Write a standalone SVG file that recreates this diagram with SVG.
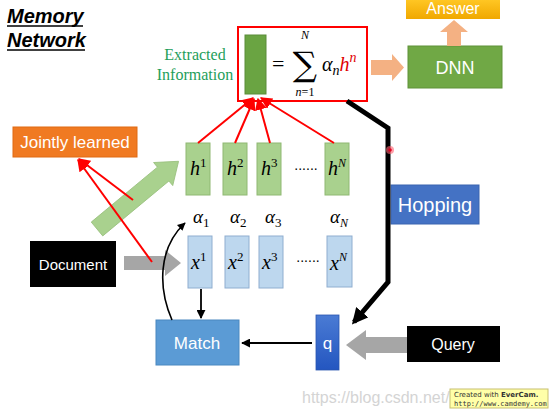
<svg xmlns="http://www.w3.org/2000/svg" width="554" height="414" viewBox="0 0 554 414">
<defs>
<marker id="ab" viewBox="0 0 10 10" refX="9" refY="5" markerWidth="5" markerHeight="5" orient="auto" markerUnits="strokeWidth"><path d="M0,0 L10,5 L0,10 z" fill="#000"/></marker>
<marker id="abk" viewBox="0 0 10 10" refX="8" refY="5" markerWidth="3.2" markerHeight="3.2" orient="auto" markerUnits="strokeWidth"><path d="M0,0 L10,5 L0,10 z" fill="#000"/></marker>
<marker id="ar" viewBox="0 0 10 10" refX="9" refY="5" markerWidth="6" markerHeight="6" orient="auto" markerUnits="strokeWidth"><path d="M0,0 L10,5 L0,10 z" fill="#ff0000"/></marker>
<linearGradient id="gq" x1="0" y1="0" x2="0" y2="1"><stop offset="0" stop-color="#4a7bd4"/><stop offset="1" stop-color="#2456c0"/></linearGradient>
<linearGradient id="ga" x1="0" y1="0" x2="0" y2="1"><stop offset="0" stop-color="#ffc623"/><stop offset="1" stop-color="#f0a800"/></linearGradient>
</defs>
<style>
.lbl{font-family:"Liberation Sans",Arial,sans-serif;fill:#fff;text-anchor:middle}
.m{font-family:"Liberation Serif","DejaVu Serif",serif;font-style:italic;fill:#000}
.hb{fill:#a9d18e;stroke:#8fb873;stroke-width:1}
.xb{fill:#bdd7ee;stroke:#8faed0;stroke-width:1}
.rl{stroke:#ff0000;stroke-width:2;fill:none}
</style>
<rect width="554" height="414" fill="#fff"/>

<g id="title">
<text x="7" y="23" font-family="Liberation Sans,Arial,sans-serif" font-weight="bold" font-style="italic" font-size="20" fill="#000">Memory</text>
<line x1="7" y1="26" x2="83" y2="26" stroke="#000" stroke-width="1.5"/>
<text x="7" y="47" font-family="Liberation Sans,Arial,sans-serif" font-weight="bold" font-style="italic" font-size="20" fill="#000">Network</text>
<line x1="7" y1="50" x2="85" y2="50" stroke="#000" stroke-width="1.5"/>
</g>

<g id="extracted-label">
<text x="195" y="60" font-family="Liberation Serif,serif" font-size="16" fill="#1e9e5a" text-anchor="middle">Extracted</text>
<text x="195" y="80" font-family="Liberation Serif,serif" font-size="16" fill="#1e9e5a" text-anchor="middle">Information</text>
</g>

<g id="formula">
<rect x="238" y="27" width="129" height="74" fill="none" stroke="#ff0000" stroke-width="2"/>
<rect x="245" y="35" width="21" height="59" fill="#6aa442" stroke="#5a8c38" stroke-width="1"/>
<text x="272" y="71" font-family="Liberation Serif,serif" font-size="22" fill="#000">=</text>
<text x="305" y="76" font-family="DejaVu Serif,serif" font-size="34" fill="#000" text-anchor="middle">∑</text>
<text x="305" y="39" class="m" font-size="12" text-anchor="middle">N</text>
<text x="305" y="96" class="m" font-size="12" text-anchor="middle">n<tspan font-style="normal">=1</tspan></text>
<text x="322" y="71" class="m" font-size="20">α<tspan font-size="14" dy="4">n</tspan><tspan fill="#e00000" font-size="20" dy="-4">h</tspan><tspan fill="#e00000" font-size="14" dy="-9">n</tspan></text>
</g>

<g id="dnn">
<rect x="408" y="46" width="94" height="42" fill="#70a845" stroke="#5e9238" stroke-width="1"/>
<text x="455" y="74" class="lbl" font-size="18">DNN</text>
</g>
<g id="answer">
<rect x="406" y="0" width="94" height="19" fill="url(#ga)"/>
<text x="453" y="14" class="lbl" font-size="16">Answer</text>
</g>

<g id="jointly-learned">
<rect x="13" y="127" width="124" height="30" fill="#f07a22" stroke="#e06a12" stroke-width="1"/>
<text x="75" y="148" class="lbl" font-size="17">Jointly learned</text>
</g>

<g id="h-memory">
<rect class="hb" x="186" y="143" width="24" height="52"/>
<rect class="hb" x="223" y="143" width="24" height="52"/>
<rect class="hb" x="257" y="143" width="24" height="52"/>
<rect class="hb" x="325" y="143" width="24" height="52"/>
<text x="190" y="175" class="m" font-size="20">h<tspan font-size="13" dy="-8" font-style="normal">1</tspan></text>
<text x="227" y="175" class="m" font-size="20">h<tspan font-size="13" dy="-8" font-style="normal">2</tspan></text>
<text x="261" y="175" class="m" font-size="20">h<tspan font-size="13" dy="-8" font-style="normal">3</tspan></text>
<text x="328" y="175" class="m" font-size="20">h<tspan font-size="12" dy="-8">N</tspan></text>
<text x="306" y="170" font-family="Liberation Sans,sans-serif" font-size="14" fill="#000" text-anchor="middle">......</text>
</g>

<g id="alphas">
<text x="193" y="223" class="m" font-size="19">α<tspan font-size="13" dy="4" font-style="normal">1</tspan></text>
<text x="230" y="223" class="m" font-size="19">α<tspan font-size="13" dy="4" font-style="normal">2</tspan></text>
<text x="265" y="223" class="m" font-size="19">α<tspan font-size="13" dy="4" font-style="normal">3</tspan></text>
<text x="330" y="223" class="m" font-size="19">α<tspan font-size="12" dy="4">N</tspan></text>
</g>

<g id="x-memory">
<rect class="xb" x="188" y="236" width="24" height="52"/>
<rect class="xb" x="225" y="236" width="24" height="52"/>
<rect class="xb" x="259" y="236" width="24" height="52"/>
<rect class="xb" x="327" y="236" width="25" height="51"/>
<text x="191" y="269" class="m" font-size="20">x<tspan font-size="13" dy="-8" font-style="normal">1</tspan></text>
<text x="228" y="269" class="m" font-size="20">x<tspan font-size="13" dy="-8" font-style="normal">2</tspan></text>
<text x="262" y="269" class="m" font-size="20">x<tspan font-size="13" dy="-8" font-style="normal">3</tspan></text>
<text x="330" y="270" class="m" font-size="20">x<tspan font-size="12" dy="-9">N</tspan></text>
<text x="308" y="262" font-family="Liberation Sans,sans-serif" font-size="14" fill="#000" text-anchor="middle">......</text>
</g>

<g id="document">
<rect x="30" y="241" width="86" height="46" fill="#000"/>
<text x="73" y="270" class="lbl" font-size="15">Document</text>
</g>

<g id="hopping">
<rect x="391" y="185" width="88" height="39" fill="#4472c4" stroke="#3a64b0" stroke-width="1"/>
<text x="435" y="212" class="lbl" font-size="20">Hopping</text>
</g>

<g id="match">
<rect x="156" y="320" width="83" height="45" fill="#5b9bd5" stroke="#4a88c0" stroke-width="1"/>
<text x="197" y="349" class="lbl" font-size="17">Match</text>
</g>

<g id="q">
<rect x="316" y="315" width="23" height="55" fill="url(#gq)" stroke="#2a55b0" stroke-width="0.8"/>
<text x="327.5" y="349" class="lbl" font-size="17">q</text>
</g>

<g id="query">
<rect x="407" y="326" width="93" height="36" fill="#000"/>
<text x="453" y="350" class="lbl" font-size="16">Query</text>
</g>

<g id="connectors">
<polygon points="371,60 392,60 392,54 404,67.5 392,81 392,75 371,75" fill="#f4b183"/>
<polygon points="447,46 447,32 440,32 454,20 468,32 461,32 461,46" fill="#f4b183"/>
<polygon points="0,-9 86,-9 86,-15 106,0 86,15 86,9 0,9" fill="#a9d18e" stroke="#98c07d" stroke-width="0.8" transform="translate(97,229) rotate(-39.7)"/>
<polygon points="124,256 165,256 165,250 181,263 165,276 165,270 124,270" fill="#a6a6a6"/>
<polygon points="407,337 366,337 366,330 346,345 366,360 366,353 407,353" fill="#a6a6a6"/>
<line class="rl" x1="198" y1="143" x2="253" y2="98" marker-end="url(#ar)"/>
<line class="rl" x1="235" y1="143" x2="254" y2="99" marker-end="url(#ar)"/>
<line class="rl" x1="270" y1="143" x2="258" y2="99" marker-end="url(#ar)"/>
<line class="rl" x1="334" y1="143" x2="261" y2="98" marker-end="url(#ar)"/>
<line class="rl" x1="133" y1="200" x2="79" y2="159" marker-end="url(#ar)"/>
<line class="rl" x1="152" y1="262" x2="78" y2="160" marker-end="url(#ar)"/>
<polyline points="347,101 388,128 388,282 354,322" fill="none" stroke="#000" stroke-width="5" stroke-linejoin="miter" marker-end="url(#abk)"/>
<line x1="312" y1="343" x2="242" y2="343" stroke="#000" stroke-width="1.8" marker-end="url(#ab)"/>
<line x1="201" y1="289" x2="201" y2="318" stroke="#000" stroke-width="1.8" marker-end="url(#ab)"/>
<path d="M172,320 C158,288 158,248 185,223" fill="none" stroke="#000" stroke-width="1.6" marker-end="url(#ab)"/>
</g>

<g id="cursor">
<circle cx="390" cy="150" r="4" fill="#ff6070" opacity="0.6"/>
<circle cx="390" cy="150" r="1.8" fill="#e00020"/>
</g>

<g id="watermark">
<text x="302" y="403" font-family="Liberation Sans,Arial,sans-serif" font-size="16" fill="#d4d4d4">https://blog.csdn.net/</text>
<rect x="450" y="389" width="98" height="19" fill="#ffffa8" stroke="#c8c070" stroke-width="1"/>
<text x="454" y="397" font-family="DejaVu Sans,sans-serif" font-size="7" fill="#333">Created with <tspan font-weight="bold">EverCam.</tspan></text>
<text x="454" y="405.5" font-family="DejaVu Sans Mono,monospace" font-size="7" fill="#333">http://www.camdemy.com</text>
</g>
</svg>
